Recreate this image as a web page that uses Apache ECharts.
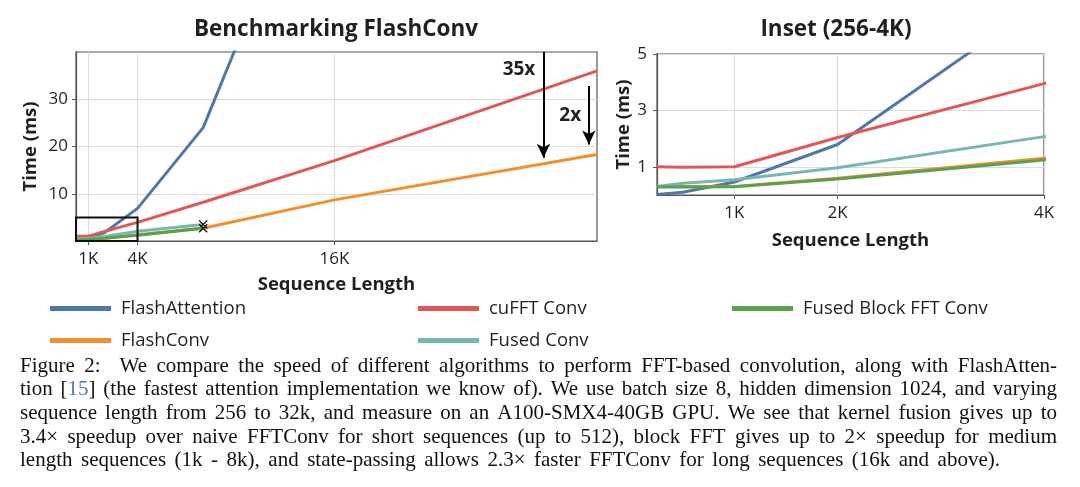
<!DOCTYPE html>
<html><head><meta charset="utf-8">
<script src="https://cdn.jsdelivr.net/npm/echarts@6/dist/echarts.min.js"></script>
<style>html,body{margin:0;padding:0;background:#fff}#c{width:1080px;height:487px}</style>
</head><body><div id="c"></div>
<script>
// ---------- data ----------
const seqLen = [256, 512, 1024, 2048, 4096, 8192, 16384, 32768];
const flashAttention = [0.02, 0.1, 0.46, 1.79, 6.9, 24.0, 92.0];
const cufftConv = [1.0, 0.98, 1.0, 2.04, 3.95, 8.2, 17.0, 36.0];
const flashConv = [0.3, 0.3, 0.3, 0.59, 1.3, 2.7, 8.7, 18.3];
const fusedConv = [0.3, 0.42, 0.54, 0.97, 2.07, 3.5];
const fusedBlockFFT = [0.28, 0.28, 0.29, 0.57, 1.24, 2.7];

const mainXTicks = [1024, 4096, 16384];
const mainYTicks = [10, 20, 30];
const insetXTicks = [1024, 2048, 4096];
const insetYTicks = [1, 3, 5];
const tickLabel = v => (v / 1024) + 'K';

const seriesNames = ['FlashAttention', 'cuFFT Conv', 'FlashConv', 'Fused Conv', 'Fused Block FFT Conv'];
const seriesValues = [flashAttention, cufftConv, flashConv, fusedConv, fusedBlockFFT];
const seriesColors = ['#4e79a7', '#e15759', '#f28e2b', '#76b7b2', '#59a14f'];
const endMarked = [false, false, false, true, true];

// annotations (data space)
const insetBox = [[256, 0], [4096, 5]];
const speedupArrows = [
  { label: '35x', x: 29430, from: 40, to: 17.6, labelX: 27900, labelY: 36.2 },
  { label: '2x', x: 32260, from: 32.8, to: 20.4, labelX: 31100, labelY: 26.6 }
];

const captionLines = [
  'Figure 2:  We compare the speed of different algorithms to perform FFT-based convolution, along with FlashAtten-',
  'tion [15] (the fastest attention implementation we know of). We use batch size 8, hidden dimension 1024, and varying',
  'sequence length from 256 to 32k, and measure on an A100-SMX4-40GB GPU. We see that kernel fusion gives up to',
  '3.4\u00d7 speedup over naive FFTConv for short sequences (up to 512), block FFT gives up to 2\u00d7 speedup for medium',
  'length sequences (1k - 8k), and state-passing allows 2.3\u00d7 faster FFTConv for long sequences (16k and above).'
];

// ---------- style ----------
const SANS = '"Open Sans", "Noto Sans", sans-serif';
const SERIF = '"Liberation Serif", "DejaVu Serif", serif';
const TXT = '#231f20';
const XMARK = 'path://M1,0 L5,4 L9,0 L10,1 L6,5 L10,9 L9,10 L5,6 L1,10 L0,9 L4,5 L0,1 Z';

const chart = echarts.init(document.getElementById('c'), null, { renderer: 'canvas' });

function axisCommon() {
  return {
    axisLine: { show: true, lineStyle: { color: '#555', width: 1.2 } },
    splitLine: { show: true, lineStyle: { color: '#dcdcdc', width: 1 } },
    nameTextStyle: { fontFamily: SANS, fontWeight: 'bold', fontSize: 18.5, color: TXT },
    nameLocation: 'middle'
  };
}
function ticks(vals) {
  return { show: true, length: 4, customValues: vals, lineStyle: { color: '#555' } };
}
function labels(vals, margin, fmt) {
  const o = { customValues: vals, fontFamily: SANS, fontSize: 17, color: TXT, margin };
  if (fmt) o.formatter = fmt;
  return o;
}

const xAxes = [
  Object.assign(axisCommon(), {
    type: 'value', gridIndex: 0, min: 256, max: 32768,
    name: 'Sequence Length', nameGap: 34,
    axisTick: ticks(mainXTicks), axisLabel: labels(mainXTicks, 10, tickLabel)
  }),
  Object.assign(axisCommon(), {
    type: 'value', gridIndex: 1, min: 256, max: 4096,
    name: 'Sequence Length', nameGap: 36,
    axisTick: ticks(insetXTicks), axisLabel: labels(insetXTicks, 10, tickLabel)
  })
];
const yAxes = [
  Object.assign(axisCommon(), {
    type: 'value', gridIndex: 0, min: 0, max: 40,
    name: 'Time (ms)', nameGap: 36,
    axisTick: ticks(mainYTicks), axisLabel: labels(mainYTicks, 8)
  }),
  Object.assign(axisCommon(), {
    type: 'value', gridIndex: 1, min: 0, max: 5,
    name: 'Time (ms)', nameGap: 24,
    axisTick: ticks(insetYTicks), axisLabel: labels(insetYTicks, 10)
  })
];

const series = [];
[0, 1].forEach(g => {
  seriesNames.forEach((name, i) => {
    const vals = seriesValues[i];
    const last = vals.length - 1;
    series.push({
      name, type: 'line', xAxisIndex: g, yAxisIndex: g,
      data: vals.map((v, k) => (endMarked[i] && k === last)
        ? { value: [seqLen[k], v], itemStyle: { color: '#111' } }
        : [seqLen[k], v]),
      color: seriesColors[i],
      lineStyle: { width: 3, color: seriesColors[i] },
      itemStyle: { color: seriesColors[i] },
      symbol: endMarked[i] ? XMARK : 'none',
      symbolSize: (val, p) => (p.dataIndex === last ? 9 : 0),
      showSymbol: endMarked[i],
      clip: true, animation: false, z: 3 + i,
      emphasis: { disabled: true }
    });
  });
});
// annotation helper series on the main chart
series.push({
  type: 'line', xAxisIndex: 0, yAxisIndex: 0, data: [], z: 20, animation: false, silent: true,
  markArea: {
    silent: true, z: 20,
    itemStyle: { color: 'rgba(0,0,0,0)', borderColor: '#111', borderWidth: 2 },
    data: [[{ coord: insetBox[0] }, { coord: insetBox[1] }]]
  },
  markLine: {
    silent: true, animation: false, symbol: ['none', 'arrow'], symbolSize: 12,
    label: { show: false },
    lineStyle: { color: '#000', width: 2, type: 'solid' },
    itemStyle: { color: '#000' },
    data: speedupArrows.map(a => [
      { coord: [a.x, a.from], symbol: 'none' },
      { coord: [a.x, a.to], symbol: 'arrow', symbolSize: [10, 14] }
    ])
  },
  markPoint: {
    silent: true, animation: false,
    symbol: 'circle', symbolSize: 1, itemStyle: { color: 'rgba(0,0,0,0)' },
    label: { show: true, position: 'inside', fontFamily: SANS, fontWeight: 'bold', fontSize: 19, color: TXT },
    data: speedupArrows.map(a => ({ coord: [a.labelX, a.labelY], label: { formatter: a.label } }))
  }
});

// legends (3-column layout, row-major)
const legendPos = [
  { name: 'FlashAttention', left: 50, top: 306 },
  { name: 'cuFFT Conv', left: 418, top: 306 },
  { name: 'Fused Block FFT Conv', left: 732, top: 306 },
  { name: 'FlashConv', left: 50, top: 338 },
  { name: 'Fused Conv', left: 418, top: 338 }
];
const legends = legendPos.map(l => ({
  data: [l.name], left: l.left, top: l.top - 7, padding: 0,
  icon: 'rect', itemWidth: 61, itemHeight: 5, selectedMode: false,
  textStyle: { fontFamily: SANS, fontSize: 18.5, color: TXT, padding: [0, 0, 0, 5] }
}));

// caption, justified
const graphics = [];
const captionFontSize = 21;
const capFont = captionFontSize + 'px ' + SERIF;
const cv = document.createElement('canvas').getContext('2d');
cv.font = capFont;
const capX0 = 20, capRight = [1057, 1057, 1057, 1057, 1000];
const capY = [366, 389, 413, 437, 460];
captionLines.forEach((line, li) => {
  const words = line.split(' ');
  const widths = words.map(w => cv.measureText(w).width);
  const total = widths.reduce((a, b) => a + b, 0);
  const gap = (capRight[li] - capX0 - total) / (words.length - 1);
  let x = capX0;
  words.forEach((w, wi) => {
    if (w.length) {
      const isRef = w === '[15]';
      graphics.push({
        type: 'text', silent: true,
        style: {
          x, y: capY[li], text: isRef ? '[{r|15}]' : w, font: capFont, fill: '#111',
          textVerticalAlign: 'middle', verticalAlign: 'middle',
          rich: isRef ? { r: { fill: '#4a78b5', font: capFont } } : undefined
        }
      });
    }
    x += widths[wi] + gap;
  });
});
// titles
graphics.push({ type: 'text', silent: true, style: { x: 336, y: 30, text: 'Benchmarking FlashConv', font: 'bold 22.5px ' + SANS, fill: TXT, textAlign: 'center', align: 'center', textVerticalAlign: 'middle', verticalAlign: 'middle' } });
graphics.push({ type: 'text', silent: true, style: { x: 836, y: 30, text: 'Inset (256-4K)', font: 'bold 22.5px ' + SANS, fill: TXT, textAlign: 'center', align: 'center', textVerticalAlign: 'middle', verticalAlign: 'middle' } });

chart.setOption({
  animation: false,
  backgroundColor: '#fff',
  grid: [
    { left: 76, right: 483, top: 52, bottom: 246, show: true, borderColor: '#555', borderWidth: 1.2, containLabel: false },
    { left: 657, right: 36, top: 54, bottom: 292, show: true, borderColor: '#555', borderWidth: 1.2, containLabel: false }
  ],
  xAxis: xAxes,
  yAxis: yAxes,
  legend: legends,
  series,
  graphic: graphics
});
</script></body></html>
